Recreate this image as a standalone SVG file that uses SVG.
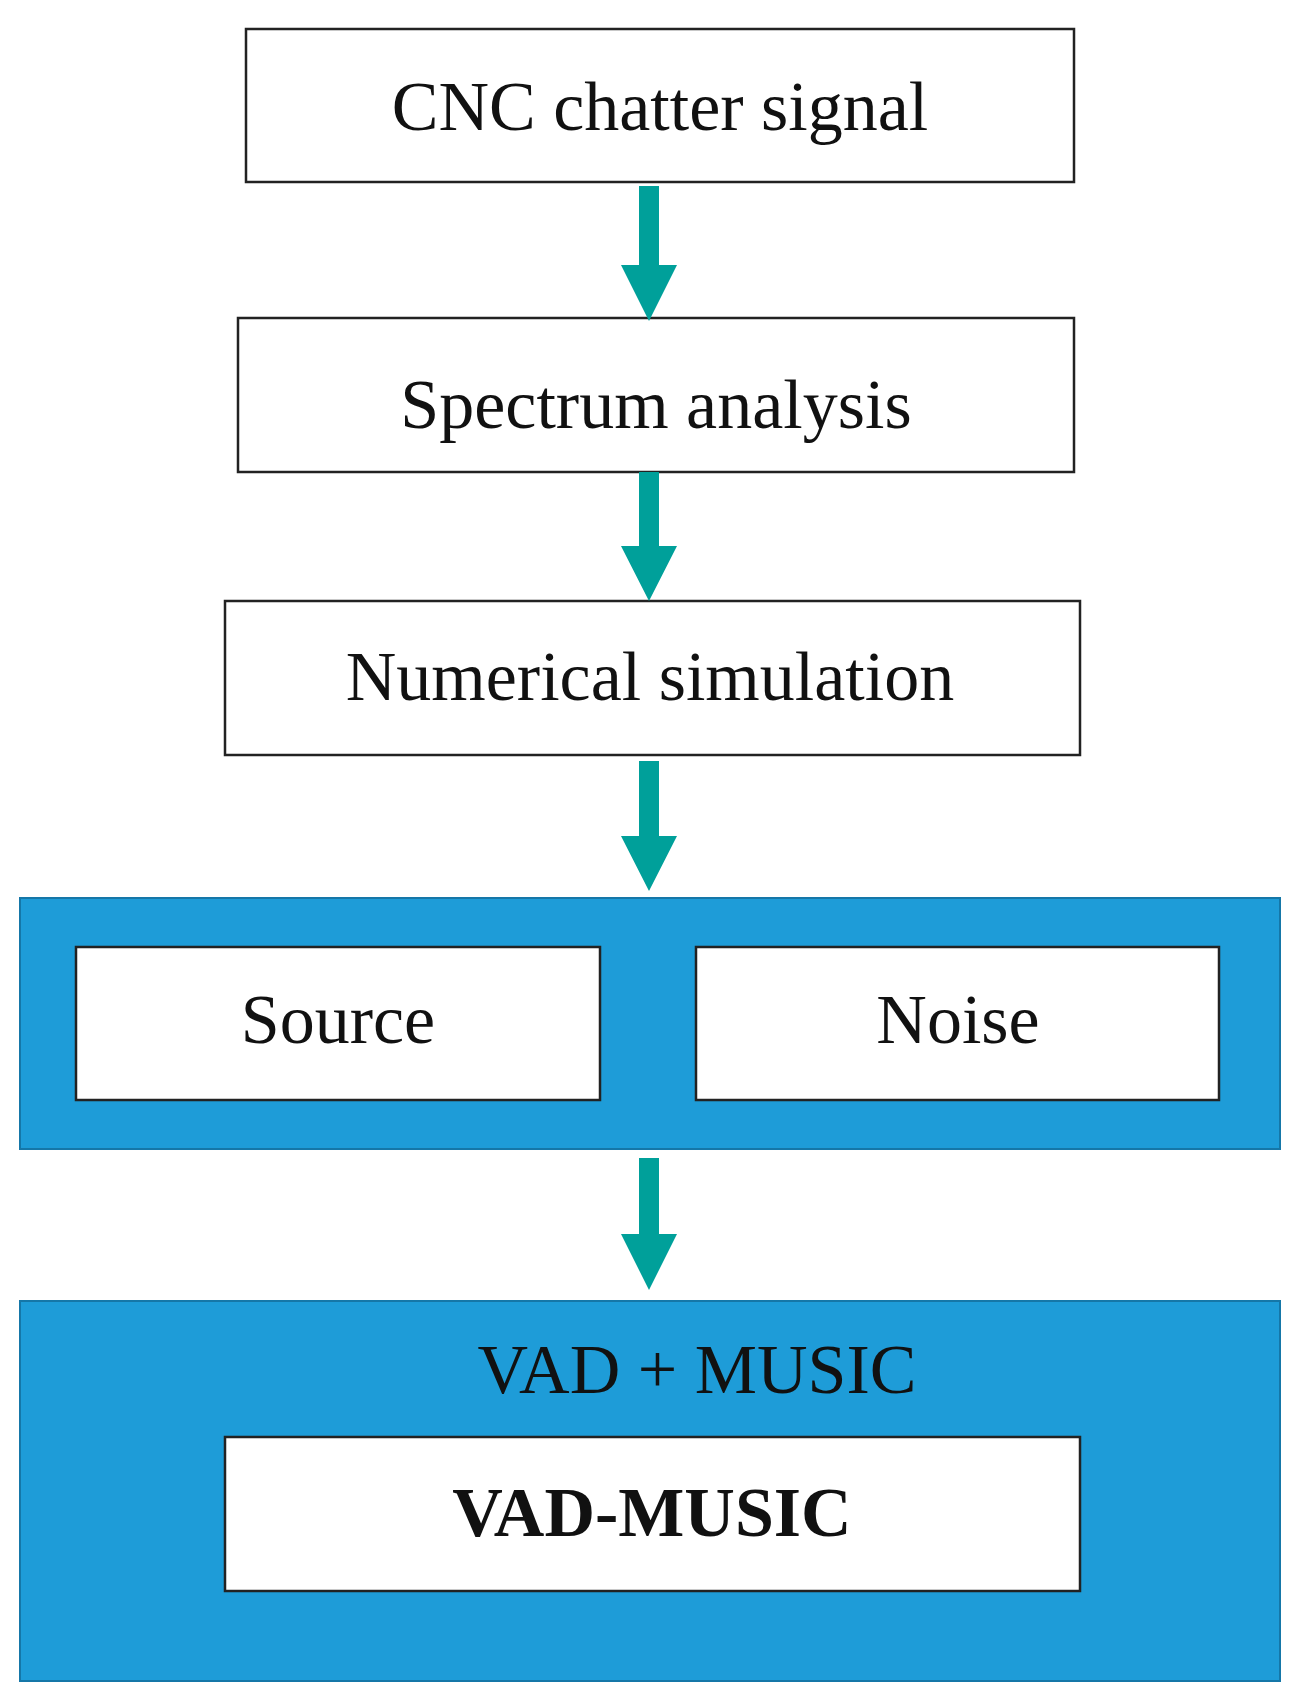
<svg xmlns="http://www.w3.org/2000/svg" width="1305" height="1692" viewBox="0 0 1305 1692">
<style>
.box{fill:#fff;stroke:#222;stroke-width:2.5}
.panel{fill:#1E9CD8;stroke:#1577A8;stroke-width:2}
.t{font-family:"Liberation Serif",serif;font-size:70px;fill:#111;text-anchor:middle}
.arr{fill:#00A09A}
</style>
<rect width="1305" height="1692" fill="#fff"/>
<g id="cnc"><rect class="box" x="246" y="29" width="828" height="153"/><text class="t" x="660" y="130">CNC chatter signal</text></g>
<g id="spectrum"><rect class="box" x="238" y="318" width="836" height="154"/><text class="t" x="656" y="428">Spectrum analysis</text></g>
<g id="numerical"><rect class="box" x="225" y="601" width="855" height="154"/><text class="t" x="650" y="700">Numerical simulation</text></g>
<g id="panel1"><rect class="panel" x="20" y="898" width="1260" height="251"/>
<g id="source"><rect class="box" x="76" y="947" width="524" height="153"/><text class="t" x="338" y="1043">Source</text></g>
<g id="noise"><rect class="box" x="696" y="947" width="523" height="153"/><text class="t" x="958" y="1043">Noise</text></g></g>
<g id="panel2"><rect class="panel" x="20" y="1301" width="1260" height="380"/>
<text class="t" x="697" y="1393">VAD + MUSIC</text>
<g id="vadmusic"><rect class="box" x="225" y="1437" width="855" height="154"/><text class="t" x="652" y="1536" font-weight="bold">VAD-MUSIC</text></g></g>
<g id="connectors">
<polygon class="arr" points="639,186 659,186 659,265 677,265 649,321 621,265 639,265"/>
<polygon class="arr" points="639,472 659,472 659,546 677,546 649,601 621,546 639,546"/>
<polygon class="arr" points="639,761 659,761 659,836 677,836 649,891 621,836 639,836"/>
<polygon class="arr" points="639,1158 659,1158 659,1234 677,1234 649,1290 621,1234 639,1234"/>
</g>
</svg>
